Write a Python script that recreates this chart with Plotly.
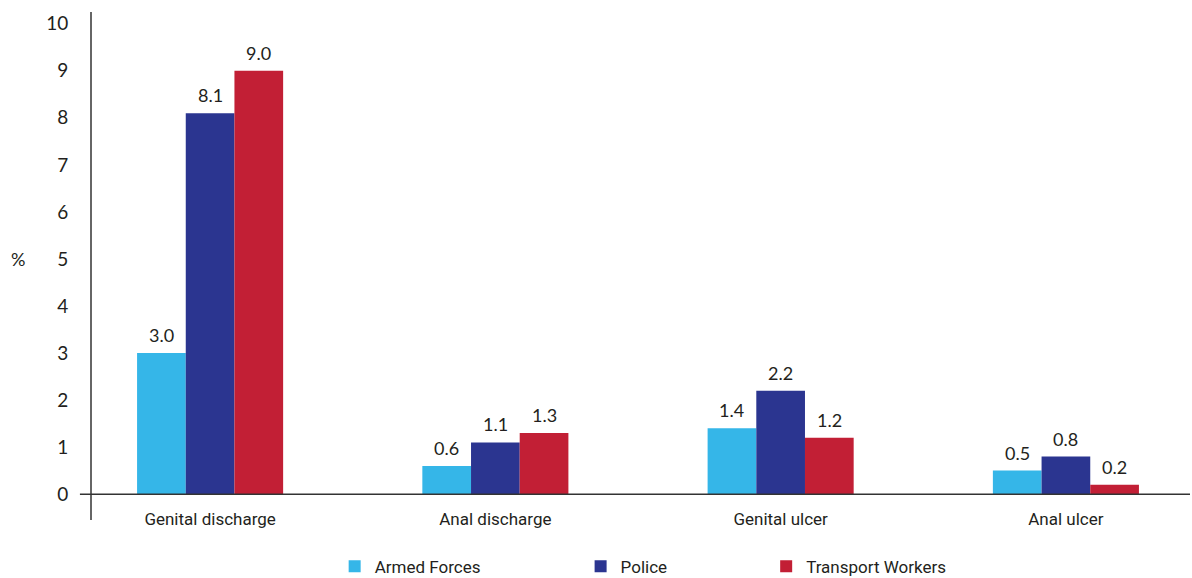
import plotly.graph_objects as go

# Reported symptoms by occupational group (%)
categories = ["Genital discharge", "Anal discharge", "Genital ulcer", "Anal ulcer"]
armed_forces = [3.0, 0.6, 1.4, 0.5]
police = [8.1, 1.1, 2.2, 0.8]
transport_workers = [9.0, 1.3, 1.2, 0.2]
y_ticks = list(range(0, 11))

series = [
    ("Armed Forces", armed_forces, "#35B6E8", "legend"),
    ("Police", police, "#2B3590", "legend2"),
    ("Transport Workers", transport_workers, "#C21F35", "legend3"),
]

NUM_FONT = "Lato, Open Sans, sans-serif"
LABEL_FONT = "Roboto, sans-serif"
TEXT_COLOR = "#231F20"

W, H = 1192, 578
M = dict(l=92, r=2, t=12, b=58)
X_RANGE = [-0.414, 3.435]
BARGAP = 0.488

fig = go.Figure()
for name, vals, color, leg in series:
    fig.add_trace(go.Bar(
        x=categories, y=vals, name=name, legend=leg,
        marker=dict(color=color, line=dict(width=0)),
    ))

# value labels above each bar, shifted to the bar's slot in its group
px_per_cat = (W - M["l"] - M["r"]) / (X_RANGE[1] - X_RANGE[0])
bar_px = px_per_cat * (1 - BARGAP) / len(series)
annotations = []
for i, (name, vals, color, leg) in enumerate(series):
    for cat, v in zip(categories, vals):
        annotations.append(dict(
            x=cat, y=v, xref="x", yref="y", text=f"{v:.1f}", showarrow=False,
            xanchor="center", yanchor="bottom",
            xshift=(i - (len(series) - 1) / 2) * bar_px, yshift=5,
            font=dict(family=NUM_FONT, size=18, color=TEXT_COLOR),
        ))
annotations.append(dict(
    text="%", xref="paper", yref="y", x=-0.067, y=5, showarrow=False,
    xanchor="center", yanchor="middle",
    font=dict(family=NUM_FONT, size=18, color=TEXT_COLOR),
))

legend_common = dict(
    orientation="h", yanchor="middle", y=-0.092, xanchor="left",
    font=dict(family=LABEL_FONT, size=17, color=TEXT_COLOR),
    bgcolor="rgba(0,0,0,0)", itemclick=False, itemdoubleclick=False,
)

fig.update_layout(
    width=W, height=H,
    margin=dict(**M, autoexpand=False),
    plot_bgcolor="white", paper_bgcolor="white",
    barmode="group", bargap=BARGAP, bargroupgap=0,
    showlegend=True,
    legend=dict(x=0.221, **legend_common),
    legend2=dict(x=0.445, **legend_common),
    legend3=dict(x=0.614, **legend_common),
    xaxis=dict(
        type="category", range=X_RANGE,
        showline=False, showgrid=False, zeroline=False, ticks="",
        tickfont=dict(family=LABEL_FONT, size=17, color=TEXT_COLOR),
        ticklabelstandoff=-13,
    ),
    yaxis=dict(
        range=[-0.55, 10.25], tickvals=y_ticks,
        showgrid=False, zeroline=False,
        showline=True, linecolor="#666666", linewidth=2,
        ticks="", ticklabelstandoff=18,
        tickfont=dict(family=NUM_FONT, size=19, color=TEXT_COLOR),
    ),
    shapes=[dict(
        type="line", xref="paper", yref="y", x0=-0.011, x1=1, y0=0, y1=0,
        line=dict(color="#333333", width=1.5), layer="above",
    )],
    annotations=annotations,
)

fig.write_html("out.html")
